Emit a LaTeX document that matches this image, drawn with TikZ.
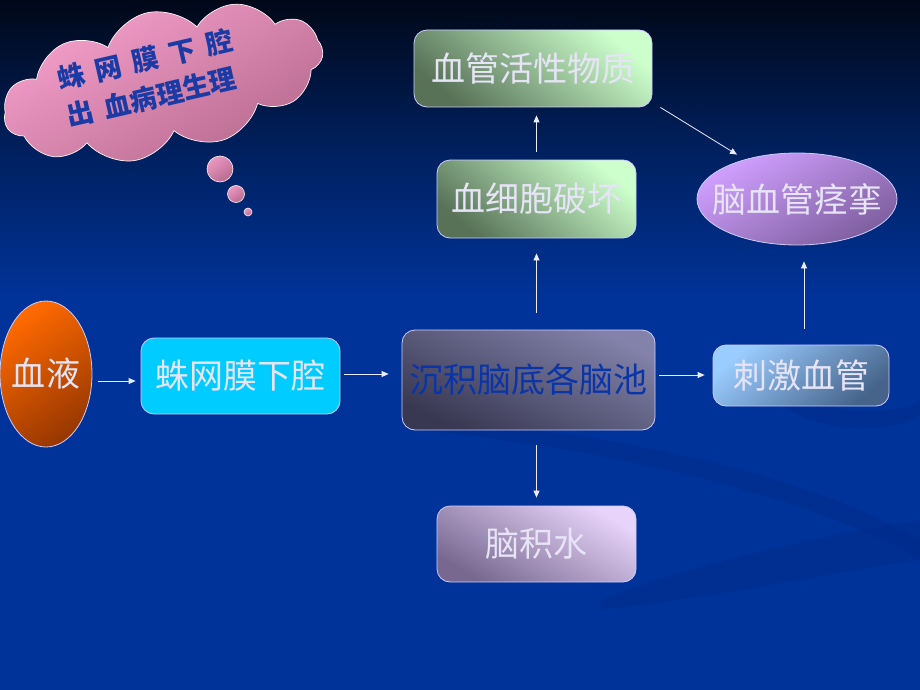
\documentclass[tikz,border=0pt]{standalone}
\usepackage{fontspec}
\setmainfont{Liberation Sans}
\newfontfamily\cjk{Noto Sans CJK SC}
\usetikzlibrary{shapes.geometric,shapes.symbols,arrows.meta}
\definecolor{bgblue}{HTML}{003399}
\definecolor{bgtop}{HTML}{000818}
\definecolor{bgmid}{HTML}{00205E}
\definecolor{swoosh}{HTML}{002C8C}
\definecolor{txt}{HTML}{E6E4F6}
\definecolor{deptxt}{HTML}{0A35A8}
\definecolor{cloudtxt}{HTML}{1A3AA6}
\definecolor{greenA}{HTML}{CCFFCC}
\definecolor{greenB}{HTML}{587258}
\definecolor{pinkA}{HTML}{F4A0CC}
\definecolor{pinkB}{HTML}{B86A8E}
\definecolor{cyanbox}{HTML}{00CCFF}
\definecolor{depA}{HTML}{8282AA}
\definecolor{depB}{HTML}{383852}
\definecolor{stimA}{HTML}{9ACCFF}
\definecolor{stimB}{HTML}{46648A}
\definecolor{hydA}{HTML}{E8D4FA}
\definecolor{hydB}{HTML}{786890}
\definecolor{spA}{HTML}{D0A0FF}
\definecolor{spB}{HTML}{7E5E9E}
\definecolor{bloodA}{HTML}{FF6A00}
\definecolor{bloodB}{HTML}{983800}
\begin{document}
\begin{tikzpicture}[x=1pt,y=-1pt,
  conn/.style={draw=white!92!blue, line width=0.8pt, -{Triangle[length=7pt,width=6pt]}},
  box/.style={rounded corners=13pt, draw=white!80!blue, line width=0.8pt,
    font=\cjk\fontsize{34}{38}\selectfont, text=txt, inner sep=0pt},
  oval/.style={ellipse, draw=white!80!blue, line width=0.8pt, inner sep=0pt},
  ovaltext/.style={font=\cjk\fontsize{34}{38}\selectfont, text=txt, inner sep=0pt},
  greenbox/.style={box, shading=axis, top color=greenA, bottom color=greenB, shading angle=-40},
  bubble/.style={circle, draw=white!85!pink, line width=0.6pt, inner sep=0pt, shading=axis,
    top color=pinkA!85!pinkB, bottom color=pinkB, shading angle=35}
]
\path[use as bounding box] (0,0) rectangle (920,690);
% background
\fill[bgblue] (0,0) rectangle (920,690);
\shade[top color=bgtop, bottom color=bgmid] (0,0) rectangle (920,150);
\shade[top color=bgmid, bottom color=bgblue] (0,149) rectangle (920,300);
% faint swooshes
\fill[swoosh, opacity=0.6] (420,420) .. controls (620,430) and (820,480) .. (920,540) -- (920,560) .. controls (820,500) and (620,450) .. (420,430) -- cycle;
\fill[swoosh, opacity=0.6] (730,330) .. controls (760,420) and (900,420) .. (920,400) -- (920,415) .. controls (880,440) and (760,440) .. (730,330) -- cycle;
\fill[swoosh, opacity=0.5] (600,600) .. controls (700,560) and (850,530) .. (920,520) -- (920,560) .. controls (850,570) and (700,600) .. (600,610) -- cycle;

% cloud
\node[cloud, cloud puffs=11, cloud puff arc=115, aspect=2.3, minimum width=326, minimum height=144,
  rotate=13, draw=white!85!pink, line width=0.7pt, shading=axis,
  top color=pinkA, bottom color=pinkB, shading angle=30]
  (cloud) at (163,83) {};
\node[rotate=13, align=left, text=cloudtxt, font=\cjk\bfseries\fontsize{27}{38}\selectfont]
  (cloudtext) at (150,78) {蛛\hspace{11pt}网\hspace{11pt}膜\hspace{11pt}下\hspace{11pt}腔\\出\hspace{11pt}血病理生理};
\node[bubble, minimum size=26] (b1) at (220,169) {};
\node[bubble, minimum size=17] (b2) at (236,194) {};
\node[bubble, minimum size=8] (b3) at (248,212) {};

% nodes
\node[oval, minimum width=92, minimum height=146, shading=axis,
  top color=bloodA, bottom color=bloodB, shading angle=35,
  label={[ovaltext]center:血液}] (blood) at (46,374) {};
\node[box, fill=cyanbox, minimum width=199, minimum height=76] (sub) at (240.5,376) {蛛网膜下腔};
\node[box, text=deptxt, minimum width=253, minimum height=100, shading=axis,
  top color=depA, bottom color=depB, shading angle=-25] (dep) at (528.5,380) {沉积脑底各脑池};
\node[box, minimum width=176, minimum height=61, shading=axis,
  top color=stimA, bottom color=stimB, shading angle=40] (stim) at (801,375.5) {刺激血管};
\node[box, minimum width=199, minimum height=76, shading=axis,
  top color=hydA, bottom color=hydB, shading angle=-30] (hydro) at (536.5,544) {脑积水};
\node[greenbox, minimum width=199, minimum height=78] (cell) at (536.5,199) {血细胞破坏};
\node[greenbox, minimum width=238, minimum height=77] (vaso) at (533,68.5) {血管活性物质};
\node[oval, minimum width=200, minimum height=92, shading=axis,
  top color=spA, bottom color=spB, shading angle=30,
  label={[ovaltext]center:脑血管痉挛}] (spasm) at (797,199) {};

% connectors
\draw[conn, shorten <=6pt, shorten >=5pt] (blood.east |- 0,381) -- (sub.west |- 0,381);
\draw[conn, shorten <=4pt, shorten >=13pt] (sub.east |- 0,374) -- (dep.west |- 0,374);
\draw[conn, shorten <=4pt, shorten >=8pt] (dep.east |- 0,375) -- (stim.west |- 0,375);
\draw[conn, shorten <=15pt, shorten >=8pt] (hydro.north |- dep.south) -- (hydro.north);
\draw[conn, shorten <=17pt, shorten >=15pt] (cell.south |- dep.north) -- (cell.south);
\draw[conn, shorten <=8pt, shorten >=8pt] (cell.north) -- (cell.north |- vaso.south);
\draw[conn, shorten <=16pt, shorten >=16pt] (804,0 |- stim.north) -- (804,0 |- spasm.south);
\draw[conn] ([xshift=8]vaso.south east) -- ([xshift=-60,yshift=-2]spasm.north);
\end{tikzpicture}
\end{document}
